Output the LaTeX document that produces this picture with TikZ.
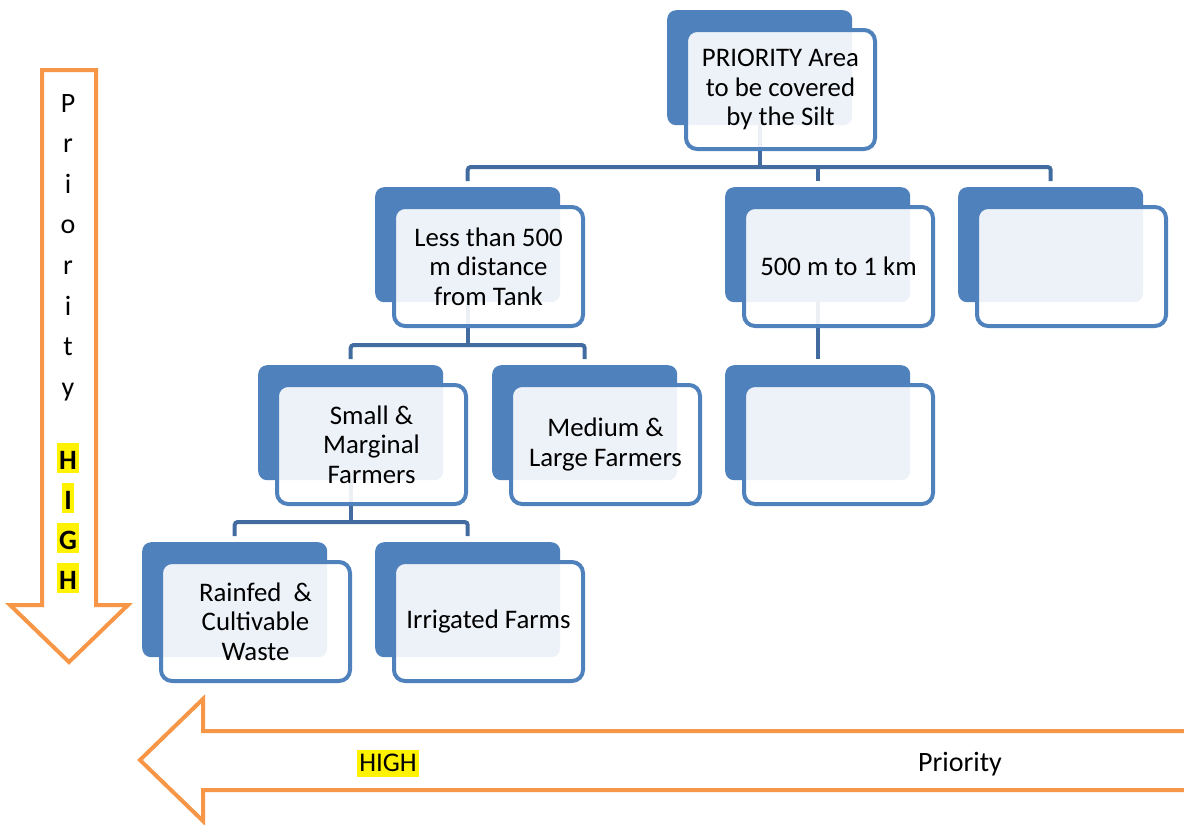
\documentclass[tikz,border=0pt]{standalone}
\usepackage{fontspec}
\setmainfont{Carlito}
\definecolor{boxblue}{RGB}{79,129,189}
\definecolor{lineblue}{RGB}{66,108,160}
\definecolor{arroworange}{RGB}{247,150,70}
\pgfdeclarelayer{back}
\pgfdeclarelayer{conn}
\pgfsetlayers{back,conn,main}
\newcommand\boxfont{\fontsize{26.8}{29.5}\selectfont}
\newcommand\hlbox[3]{{\setlength\fboxsep{0pt}\colorbox{yellow}{\rule[-#1]{0pt}{#2}\hspace{2pt}#3\hspace{2pt}}}}
\tikzset{
  backbox/.style={rectangle, rounded corners=9pt, fill=boxblue, minimum width=185pt,
    minimum height=115pt, inner sep=0pt, anchor=north west},
  frontbox/.style={rectangle, rounded corners=11pt, draw=boxblue, line width=4pt,
    fill=white, fill opacity=0.9, text opacity=1, draw opacity=1, minimum width=189pt,
    minimum height=119pt, inner sep=0pt, anchor=center, align=center, font=\boxfont},
  conn/.style={draw=lineblue, line width=4pt, rounded corners=3pt},
  bigarrow/.style={draw=arroworange, line width=4pt, fill=white},
  vletter/.style={anchor=base, inner sep=0pt, font=\fontsize{28}{30}\selectfont},
  arrowlabel/.style={anchor=base, inner sep=0pt, font=\fontsize{28}{30}\selectfont},
}
\newcommand\tierbox[4]{%
  \begin{pgfonlayer}{back}\node[backbox] (#1b) at (#2,#3) {};\end{pgfonlayer}
  \node[frontbox] (#1) at (#2+113.5,#3+79.5) {#4};}
\begin{document}
\begin{tikzpicture}[x=1pt,y=-1pt]
\useasboundingbox (0,0) rectangle (1184,825);
\begin{pgfonlayer}{back}
  \fill[white] (0,0) rectangle (1184,825);
\end{pgfonlayer}

% orange arrows
\draw[bigarrow] (42,70) -- (96,70) -- (96,605) -- (128,605) -- (69,662) -- (10,605) -- (42,605) -- cycle;
\draw[bigarrow] (1200,731) -- (203,731) -- (203,699) -- (140,760) -- (203,821) -- (203,790) -- (1200,790);

\foreach \c [count=\i from 0] in {P,r,i,o,r,i,t,y}
  \node[vletter] (pv\i) at (68,112+40.6*\i) {\c};
\foreach \c [count=\i from 0] in {H,I,G,H}
  \node[vletter] (hv\i) at (68,469+40*\i) {\hlbox{4pt}{30pt}{\textbf{\c}}};
\node[arrowlabel, font=\fontsize{27}{30}\selectfont] (hh) at (388,771) {\hlbox{6pt}{27pt}{HIGH}};
\node[arrowlabel] (pr) at (960,771) {Priority};

% boxes
\tierbox{top}{667}{10}{PRIORITY Area\\to be covered\\by the Silt}
\tierbox{less}{375}{187}{Less than 500\\m distance\\from Tank}
\tierbox{mid}{725}{187}{500 m to 1 km}
\tierbox{right}{958}{187}{}
\tierbox{small}{258}{365}{Small \&\\Marginal\\Farmers}
\tierbox{medium}{492}{365}{Medium \&\\Large Farmers}
\tierbox{lower}{725}{365}{}
\tierbox{rain}{142}{542}{Rainfed~~\&\\Cultivable\\Waste}
\tierbox{irr}{375}{542}{Irrigated Farms}

% connectors
\coordinate (h1) at (0,167);
\coordinate (h2) at (0,345);
\coordinate (h3) at (0,522);
\begin{pgfonlayer}{conn}
  \draw[conn] (topb.south) -- (topb.south |- h1);
  \draw[conn] ([yshift=6pt]lessb.north) -- (lessb.north |- h1) -- (rightb.north |- h1) -- ([yshift=6pt]rightb.north);
  \draw[conn] ([yshift=6pt]midb.north) -- (midb.north |- h1);
  \draw[conn] (lessb.south) -- (lessb.south |- h2);
  \draw[conn] ([yshift=6pt]smallb.north) -- (smallb.north |- h2) -- (mediumb.north |- h2) -- ([yshift=6pt]mediumb.north);
  \draw[conn] (midb.south) -- ([yshift=6pt]lowerb.north);
  \draw[conn] (smallb.south) -- (smallb.south |- h3);
  \draw[conn] ([yshift=6pt]rainb.north) -- (rainb.north |- h3) -- (irrb.north |- h3) -- ([yshift=6pt]irrb.north);
\end{pgfonlayer}
\end{tikzpicture}
\end{document}
